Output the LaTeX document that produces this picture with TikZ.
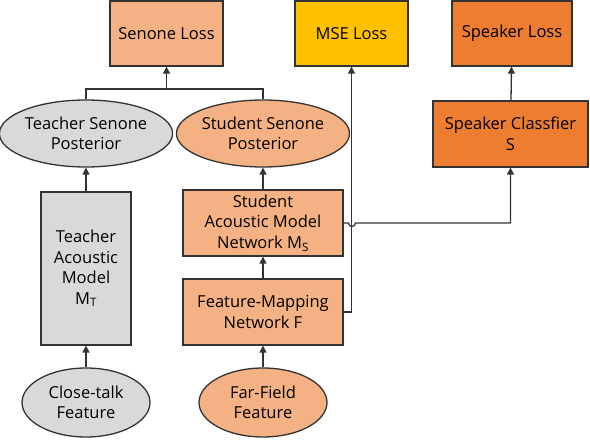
\documentclass[tikz,border=0pt]{standalone}
\usepackage{fontspec}
\setmainfont{Open Sans}
\usetikzlibrary{shapes.geometric,arrows.meta}

\definecolor{lorange}{HTML}{F4B183}
\definecolor{gold}{HTML}{FFC000}
\definecolor{dorange}{HTML}{ED7D31}
\definecolor{lgray}{HTML}{D9D9D9}
\definecolor{edge}{HTML}{333333}

\tikzset{
  blk/.style={draw=edge,line width=1.3pt,rectangle,inner sep=0pt,align=center,
    font=\fontsize{16.5}{20.5}\selectfont},
  oval/.style={draw=edge,line width=1.3pt,ellipse,inner sep=0pt,align=center,
    font=\fontsize{16.5}{20.5}\selectfont},
  arr/.style={draw=edge,line width=1.3pt,-{Triangle[length=7pt,width=7pt]}},
  wire/.style={draw=edge,line width=1.3pt}
}

\begin{document}
\begin{tikzpicture}[x=1pt,y=-1pt]
  \useasboundingbox (0,0) rectangle (590,441);
  % losses
  \node (sloss) at (166.5,33.5) [blk,fill=lorange,minimum width=113,minimum height=65] {Senone Loss};
  \node (mloss) at (351.5,33.5) [blk,fill=gold,minimum width=113,minimum height=65] {MSE Loss};
  \node (kloss) at (512,33.5) [blk,fill=dorange,minimum width=120,minimum height=65] {Speaker Loss};
  % posteriors
  \node (tpost) at (86,133.5) [oval,fill=lgray,minimum width=161,minimum height=67] {Teacher Senone\\Posterior};
  \node (spost) at (263,133.5) [oval,fill=lorange,minimum width=160,minimum height=67] {Student Senone\\Posterior};
  \node (kcls) at (510.5,134) [blk,fill=dorange,minimum width=155,minimum height=66] {Speaker Classfier\\S};
  % networks
  \node (tam) at (86,268.5) [blk,fill=lgray,minimum width=90,minimum height=153] {Teacher\\Acoustic\\Model\\M\textsubscript{T}};
  \node (sam) at (263,223) [blk,fill=lorange,minimum width=160,minimum height=66] {Student\\Acoustic Model\\Network M\textsubscript{S}};
  \node (fmap) at (263,312) [blk,fill=lorange,minimum width=160,minimum height=66] {Feature-Mapping\\Network F};
  % features
  \node (ctalk) at (86,402.5) [oval,fill=lgray,minimum width=128,minimum height=69] {Close-talk\\Feature};
  \node (ffield) at (263,402.5) [oval,fill=lorange,minimum width=128,minimum height=69] {Far-Field\\Feature};

  \coordinate (join) at (166.5,89);
  \draw[wire] (tpost.north) |- (join) -| (spost.north);
  \draw[arr] (join) -- (sloss.south);
  \draw[arr] (ctalk) -- (tam);
  \draw[arr] (tam) -- (tpost);
  \draw[arr] (ffield) -- (fmap);
  \draw[arr] (fmap) -- (sam);
  \draw[arr] (sam) -- (spost);
  \draw[arr] (fmap.east) -| (mloss.south);
  \draw[arr] (sam.east) -- (348.5,223) arc (180:0:3.5) -| (kcls.south);
  \draw[arr] (kcls) -- (kloss);
\end{tikzpicture}
\end{document}
